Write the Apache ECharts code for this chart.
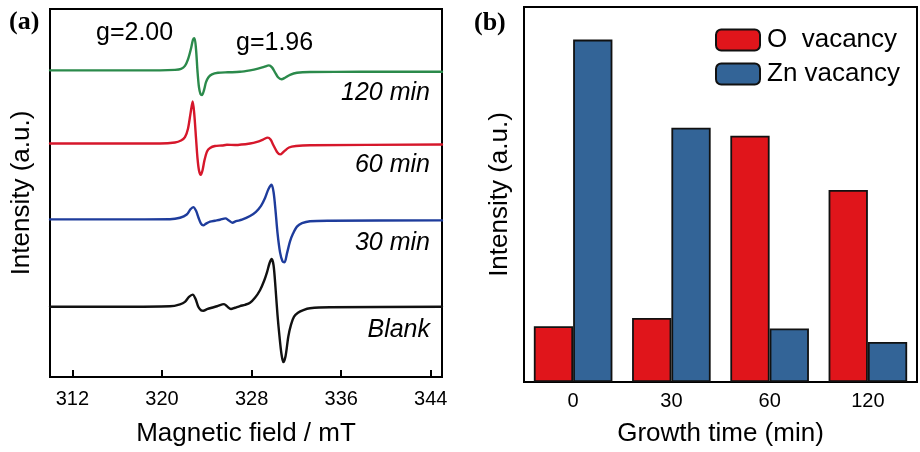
<!DOCTYPE html>
<html><head><meta charset="utf-8">
<script src="https://cdn.jsdelivr.net/npm/echarts@6/dist/echarts.min.js"></script>
<style>html,body{margin:0;padding:0;background:#fff}#c{width:920px;height:452px}</style>
</head><body><div id="c"></div>
<script>
// Panel (a): EPR spectra (field in mT, intensity in a.u., offset stacked)
const field120 = [310, 316.25, 319.82, 321.16, 321.70, 322.05, 322.32, 322.59, 322.77, 322.90, 323.04, 323.17, 323.30, 323.44, 323.57, 323.75, 323.93, 324.15, 324.46, 325.00, 325.89, 326.96, 327.86, 328.57, 329.11, 329.55, 329.82, 330.09, 330.36, 330.67, 330.98, 331.43, 332.05, 333.21, 337.68, 345];
const int120   = [310, 310, 310, 310.5, 311.5, 314.5, 321, 332, 341, 342.5, 331, 309, 293, 286, 285, 290, 298, 303, 306, 307.5, 308, 308.5, 310, 311.7, 313.5, 315, 313, 308, 303, 301, 302.5, 305.5, 307.5, 308.3, 308.5, 308.5];
const field60 = [310, 316.25, 319.82, 321.16, 321.70, 322.05, 322.32, 322.54, 322.74, 322.88, 323.04, 323.17, 323.30, 323.46, 323.62, 323.79, 324.02, 324.29, 324.73, 325.36, 325.80, 326.52, 327.86, 328.57, 329.02, 329.44, 329.69, 329.96, 330.27, 330.54, 330.89, 331.34, 331.96, 333.21, 345];
const int60   = [236, 236, 236, 237, 239, 242.5, 251, 266, 278.5, 266, 241, 221, 209, 204.3, 209, 219, 228, 231.5, 233.5, 234, 234.7, 234.5, 236, 238, 240, 242, 240, 234, 227.5, 225, 228, 232, 233.5, 234.3, 235];
const field30 = [310, 316.25, 320.71, 321.61, 322.21, 322.54, 322.79, 323.04, 323.26, 323.48, 323.69, 323.93, 324.29, 324.73, 325.18, 325.67, 325.94, 326.28, 326.61, 327.14, 327.86, 328.39, 328.84, 329.20, 329.51, 329.78, 329.96, 330.13, 330.31, 330.54, 330.76, 330.94, 331.16, 331.43, 331.70, 332.05, 332.50, 333.21, 335.00, 345];
const int30   = [159.3, 159.3, 159.5, 161, 164.3, 169.5, 171.7, 168, 161, 155, 153.3, 155, 157, 158, 159, 160.3, 158.5, 156, 157.5, 159, 162.7, 167, 173, 181, 190, 194.3, 187, 169, 146, 126, 117, 116, 125, 137, 145, 152, 155.5, 157.5, 158, 158.3];
const fieldBlank = [310, 316.25, 320.71, 321.61, 322.05, 322.41, 322.74, 322.99, 323.24, 323.48, 323.69, 324.02, 324.44, 324.91, 325.54, 325.80, 326.16, 326.52, 326.96, 327.41, 327.86, 328.30, 328.75, 329.11, 329.38, 329.60, 329.79, 329.96, 330.13, 330.31, 330.49, 330.67, 330.83, 331.03, 331.28, 331.52, 331.79, 332.14, 332.62, 333.21, 335.00, 345];
const intBlank   = [71, 71, 71.5, 73.5, 76, 81, 83.3, 79, 71, 67.5, 67, 68.5, 70, 71.5, 73.7, 71.5, 68.7, 70, 71.7, 73, 75, 80, 87.7, 97, 106, 115, 119.3, 113, 91, 63, 41, 23, 15, 21, 41, 53, 61, 65, 67.7, 69.5, 70.5, 71];
const fieldTicks = [312, 320, 328, 336, 344];

// Panel (b): bar chart
const growthTimes = ['0', '30', '60', '120'];
const oVacancy  = [14.9, 17.1, 65.7, 51.2];
const znVacancy = [91.3, 67.8, 14.3, 10.7];

const zip = (a, b) => a.map((v, i) => [v, b[i]]);
const FONT = 'Liberation Sans';

const chart = echarts.init(document.getElementById('c'), null, {renderer: 'canvas'});
const lineSeries = (name, f, v, color) => ({
  name, type: 'line', xAxisIndex: 0, yAxisIndex: 0, data: zip(f, v),
  showSymbol: false, smooth: 0.3,
  lineStyle: {color, width: 2.4, join: 'round', cap: 'round'}, itemStyle: {color}, silent: true
});

chart.setOption({
  animation: false,
  textStyle: {fontFamily: FONT},
  grid: [
    {left: 50, top: 9, width: 392, height: 372, show: true, borderColor: '#000', borderWidth: 2, backgroundColor: 'transparent'},
    {left: 524, top: 7, width: 393, height: 375, show: true, borderColor: '#000', borderWidth: 2, backgroundColor: 'transparent'}
  ],
  xAxis: [
    {gridIndex: 0, type: 'value', min: 310, max: 345,
     axisLine: {show: false}, splitLine: {show: false},
     axisTick: {show: true, inside: true, length: 7, customValues: fieldTicks, lineStyle: {color: '#000', width: 2}},
     axisLabel: {customValues: fieldTicks, fontSize: 20, color: '#000', margin: 12, fontFamily: FONT},
     name: 'Magnetic field / mT', nameLocation: 'middle', nameGap: 44,
     nameTextStyle: {fontSize: 26, color: '#000', fontFamily: FONT}},
    {gridIndex: 1, type: 'category', data: growthTimes,
     axisLine: {show: false}, axisTick: {show: false}, splitLine: {show: false},
     axisLabel: {fontSize: 20, color: '#000', margin: 9, fontFamily: FONT},
     name: 'Growth time (min)', nameLocation: 'middle', nameGap: 39,
     nameTextStyle: {fontSize: 26, color: '#000', fontFamily: FONT}}
  ],
  yAxis: [
    {gridIndex: 0, type: 'value', min: 0, max: 372,
     axisLine: {show: false}, axisTick: {show: false}, axisLabel: {show: false}, splitLine: {show: false},
     name: 'Intensity (a.u.)', nameLocation: 'middle', nameGap: 15,
     nameTextStyle: {fontSize: 26, color: '#000', fontFamily: FONT}},
    {gridIndex: 1, type: 'value', min: 0, max: 100,
     axisLine: {show: false}, axisTick: {show: false}, axisLabel: {show: false}, splitLine: {show: false},
     name: 'Intensity (a.u.)', nameLocation: 'middle', nameGap: 11,
     nameTextStyle: {fontSize: 26, color: '#000', fontFamily: FONT}}
  ],
  legend: {
    data: ['O  vacancy', 'Zn vacancy'], orient: 'vertical', left: 715, top: 27, padding: 0,
    itemWidth: 44, itemHeight: 21, itemGap: 8,
    textStyle: {fontSize: 26, color: '#000', fontFamily: FONT, padding: [0, 0, 0, 2]}
  },
  series: [
    lineSeries('120 min', field120, int120, '#2b8a4b'),
    lineSeries('60 min', field60, int60, '#d6172b'),
    lineSeries('30 min', field30, int30, '#1e3c9c'),
    lineSeries('Blank', fieldBlank, intBlank, '#111111'),
    {name: 'O  vacancy', type: 'bar', xAxisIndex: 1, yAxisIndex: 1, data: oVacancy,
     barGap: '0%', barCategoryGap: '20%',
     itemStyle: {color: '#e0151b', borderColor: '#111', borderWidth: 1.8}},
    {name: 'Zn vacancy', type: 'bar', xAxisIndex: 1, yAxisIndex: 1, data: znVacancy,
     barGap: '0%', barCategoryGap: '20%',
     itemStyle: {color: '#336497', borderColor: '#111', borderWidth: 1.8}}
  ],
  graphic: [
    {type: 'text', left: 9, top: 9, style: {text: '(a)', font: 'bold 26px "Liberation Serif"', fill: '#000'}},
    {type: 'text', left: 474, top: 10, style: {text: '(b)', font: 'bold 26px "Liberation Serif"', fill: '#000'}},
    {type: 'text', left: 96, top: 21, style: {text: 'g=2.00', font: '25px "Liberation Sans"', fill: '#000'}},
    {type: 'text', left: 236, top: 31, style: {text: 'g=1.96', font: '25px "Liberation Sans"', fill: '#000'}},
    {type: 'text', right: 490, top: 81, style: {text: '120 min', font: 'italic 25px "Liberation Sans"', fill: '#000'}},
    {type: 'text', right: 490, top: 153, style: {text: '60 min', font: 'italic 25px "Liberation Sans"', fill: '#000'}},
    {type: 'text', right: 490, top: 231, style: {text: '30 min', font: 'italic 25px "Liberation Sans"', fill: '#000'}},
    {type: 'text', right: 490, top: 318, style: {text: 'Blank', font: 'italic 25px "Liberation Sans"', fill: '#000'}}
  ]
});
</script></body></html>
